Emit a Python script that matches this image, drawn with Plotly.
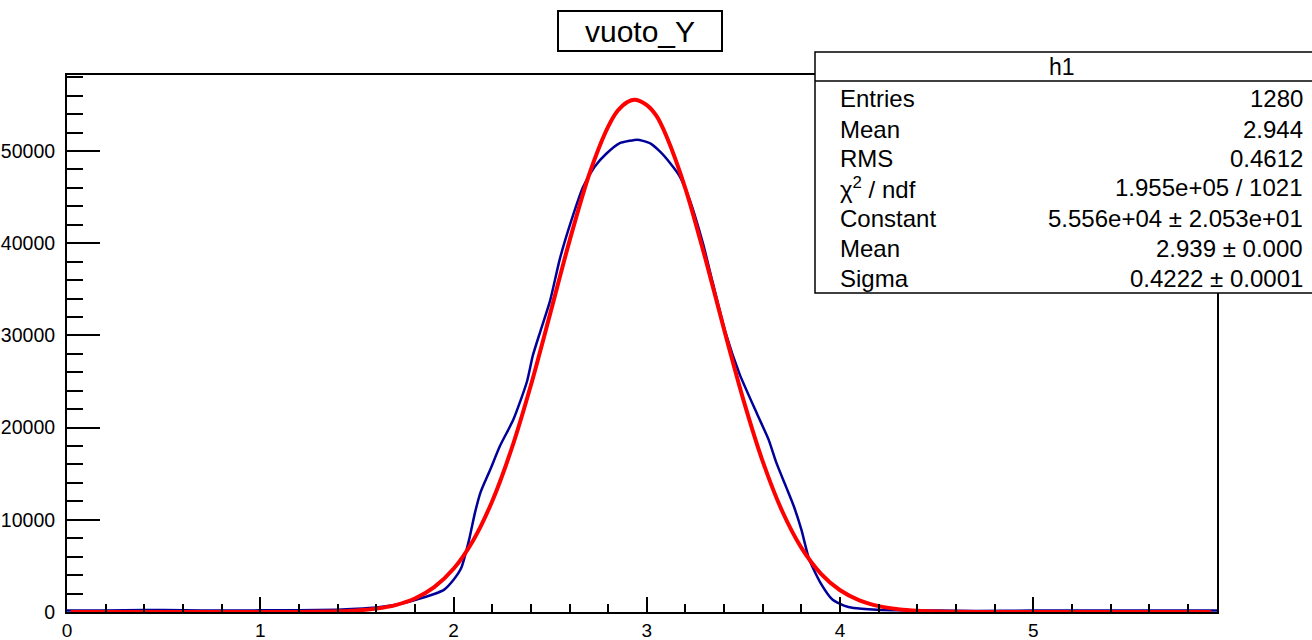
import plotly.graph_objects as go

# ---------------- data ----------------
blue_x = [0.0, 0.2, 0.4, 0.6, 0.8, 1.0, 1.2, 1.4, 1.5, 1.6, 1.7, 1.8, 1.9, 1.95,
          2.0, 2.04, 2.08, 2.11, 2.14, 2.19, 2.24, 2.31, 2.38, 2.41, 2.45, 2.50,
          2.55, 2.61, 2.67, 2.73, 2.79, 2.86, 2.91, 2.95, 2.98, 3.02, 3.07, 3.12,
          3.17, 3.22, 3.29, 3.34, 3.41, 3.48, 3.57, 3.63, 3.67, 3.72, 3.76, 3.80,
          3.84, 3.90, 3.96, 4.02, 4.07, 4.19, 4.3, 4.5, 4.7, 5.0, 5.3, 5.6, 5.95]
blue_y = [150, 150, 220, 200, 150, 180, 200, 250, 350, 500, 780, 1300, 1950, 2400,
          3500, 4800, 7800, 10700, 13000, 15450, 18000, 20900, 25000, 27800, 30500, 33800,
          38300, 42500, 46100, 48300, 49700, 50850, 51100, 51230, 51100, 50800, 49900, 48700,
          47250, 44800, 40000, 35800, 30100, 25800, 21500, 18700, 16200, 13600, 11500, 8900,
          5700, 3100, 1350, 700, 430, 250, 180, 150, 120, 150, 170, 170, 170]

red_x = [0.02, 0.4, 0.8, 1.0, 1.2, 1.4, 1.5, 1.6, 1.7, 1.8, 1.9, 2.0, 2.1, 2.2, 2.3,
         2.4, 2.5, 2.6, 2.7, 2.8, 2.85, 2.9, 2.94, 3.0, 3.05, 3.1, 3.2, 3.3, 3.4, 3.5,
         3.6, 3.7, 3.8, 3.9, 4.0, 4.1, 4.2, 4.3, 4.4, 4.6, 4.8, 5.2, 5.92]
red_y = [0, 0, 0, 2, 12, 72, 167, 364, 750, 1460, 2690, 4685, 7710, 12010, 17680,
         24590, 32360, 40250, 47340, 52630, 54380, 55320, 55560, 54980, 53800, 51670,
         45900, 38550, 30610, 22980, 16310, 10950, 6950, 4170, 2360, 1270, 640, 308,
         139, 24, 4, 0, 0]

x_ticks = [0, 1, 2, 3, 4, 5]
y_ticks = [0, 10000, 20000, 30000, 40000, 50000]

title_text = "vuoto_Y"
stats_title = "h1"
stat_names = ["Entries", "Mean", "RMS", "χ<sup>2</sup> / ndf", "Constant", "Mean", "Sigma"]
stat_values = ["1280", "2.944", "0.4612", "1.955e+05 / 1021",
               "5.556e+04 ± 2.053e+01", "2.939 ± 0.000", "0.4222 ± 0.0001"]

# ---------------- figure ----------------
W, H = 1312, 640
L, R, T, B = 67, 95, 75, 28
PW, PH = W - L - R, H - T - B

def px_x(p):
    return (p - L) / PW

def px_y(p):
    return (H - B - p) / PH

fig = go.Figure()
fig.add_trace(go.Scatter(x=blue_x, y=blue_y, mode="lines",
                         line=dict(color="#000099", width=2.5, shape="spline", smoothing=0.6),
                         hoverinfo="skip"))
fig.add_trace(go.Scatter(x=red_x, y=red_y, mode="lines",
                         line=dict(color="#ff0000", width=4, shape="spline", smoothing=0.8),
                         hoverinfo="skip"))

font_family = "Liberation Sans, Arial, Helvetica, sans-serif"

fig.update_layout(
    width=W, height=H,
    margin=dict(l=L, r=R, t=T, b=B, pad=0, autoexpand=False),
    paper_bgcolor="white", plot_bgcolor="white",
    showlegend=False,
    font=dict(family=font_family, color="black"),
    xaxis=dict(range=[0, 5.95], tickvals=x_ticks, ticktext=[str(v) for v in x_ticks],
               ticks="inside", ticklen=15, tickwidth=2, tickcolor="black",
               minor=dict(dtick=0.2, ticks="inside", ticklen=8, tickwidth=1.5, tickcolor="black"),
               showline=True, linewidth=2, linecolor="black", mirror=True,
               showgrid=False, zeroline=False, automargin=False,
               ticklabelstandoff=0,
               tickfont=dict(size=19, family=font_family, color="black")),
    yaxis=dict(range=[0, 58240], tickvals=y_ticks, ticktext=[str(v) for v in y_ticks],
               ticks="inside", ticklen=33, tickwidth=2, tickcolor="black",
               minor=dict(dtick=2000, ticks="inside", ticklen=16, tickwidth=1.5, tickcolor="black"),
               showline=True, linewidth=2, linecolor="black", mirror=True,
               showgrid=False, zeroline=False, automargin=False,
               ticklabelstandoff=6,
               tickfont=dict(size=19.5, family=font_family, color="black")),
)

# title box
fig.add_annotation(xref="paper", yref="paper", x=px_x(640), y=px_y(31),
                   xanchor="center", yanchor="middle", showarrow=False,
                   text=title_text, font=dict(size=30, family=font_family, color="black"),
                   bordercolor="black", borderwidth=2, borderpad=2,
                   width=158, height=34, bgcolor="white")

# stats box
fig.add_shape(type="rect", xref="paper", yref="paper",
              x0=px_x(815), x1=px_x(1320), y0=px_y(293), y1=px_y(52),
              line=dict(color="black", width=1.5), fillcolor="white", layer="above")
fig.add_shape(type="line", xref="paper", yref="paper",
              x0=px_x(815), x1=px_x(1320), y0=px_y(81), y1=px_y(81),
              line=dict(color="black", width=1.5), layer="above")
fig.add_annotation(xref="paper", yref="paper", x=px_x(1062), y=px_y(67),
                   xanchor="center", yanchor="middle", showarrow=False,
                   text=stats_title, font=dict(size=23, family=font_family, color="black"))
row_y = [99, 129, 158, 188, 218, 248, 278]
for name, val, yy in zip(stat_names, stat_values, row_y):
    fig.add_annotation(xref="paper", yref="paper", x=px_x(838), y=px_y(yy),
                       xanchor="left", yanchor="middle", showarrow=False,
                       text=name, font=dict(size=24, family=font_family, color="black"))
    fig.add_annotation(xref="paper", yref="paper", x=px_x(1305), y=px_y(yy),
                       xanchor="right", yanchor="middle", showarrow=False,
                       text=val, font=dict(size=24, family=font_family, color="black"))

fig.write_html("out.html", config={"displayModeBar": False},
               post_script="document.body.style.margin='0px';document.body.style.overflow='hidden';")
